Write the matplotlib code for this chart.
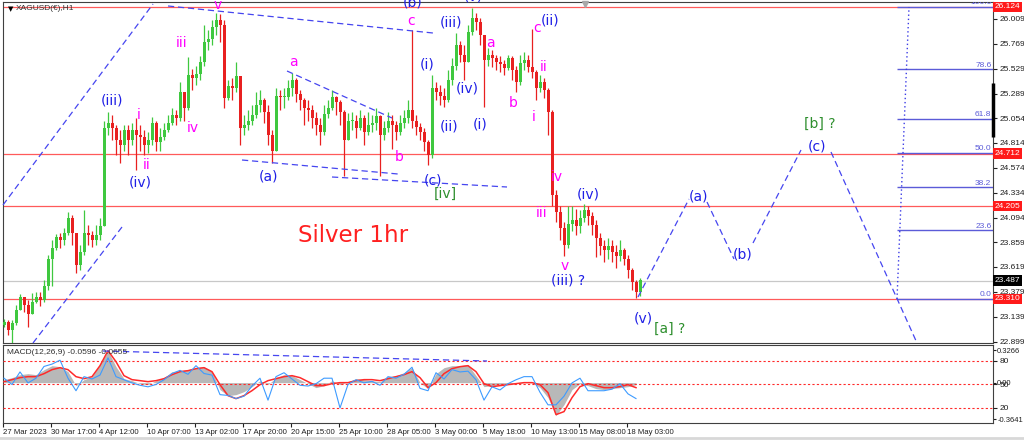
import numpy as np
import matplotlib
matplotlib.use('Agg')
import matplotlib.pyplot as plt
from matplotlib.transforms import blended_transform_factory

plt.rcParams['font.family'] = ['DejaVu Sans']
TICKFONT = 'Liberation Sans'

# ---------------- data ----------------
first_open = 23.06
close = [23.09, 23.01, 23.08, 23.20, 23.33, 23.25, 23.17, 23.28, 23.33, 23.30,
         23.44, 23.70, 23.80, 23.91, 23.88, 23.95, 24.09, 23.95, 23.64, 23.76,
         23.95, 23.93, 23.88, 23.93, 24.01, 24.96, 25.01, 24.96, 24.84, 24.79,
         24.94, 24.84, 24.94, 24.89, 24.87, 24.79, 24.84, 25.01, 24.82, 24.87,
         24.94, 25.01, 25.08, 25.05, 25.30, 25.15, 25.47, 25.44, 25.48, 25.59,
         25.79, 25.82, 25.93, 26.00, 25.95, 25.25, 25.36, 25.34, 25.46, 24.96,
         24.99, 25.03, 25.08, 25.18, 25.23, 25.11, 24.89, 24.74, 25.27, 25.26,
         25.26, 25.34, 25.42, 25.29, 25.23, 25.15, 25.13, 25.05, 24.99, 24.92,
         25.09, 25.15, 25.26, 25.21, 25.11, 24.84, 25.03, 25.03, 24.96, 25.05,
         24.92, 24.99, 25.01, 25.07, 24.89, 24.96, 25.03, 24.99, 24.92, 25.01,
         25.05, 25.13, 25.03, 24.97, 24.92, 24.82, 24.70, 25.34, 25.30, 25.27,
         25.23, 25.42, 25.56, 25.76, 25.66, 25.59, 25.88, 26.02, 25.98, 25.85,
         25.61, 25.66, 25.63, 25.59, 25.57, 25.54, 25.63, 25.52, 25.40, 25.58,
         25.61, 25.55, 25.50, 25.34, 25.40, 25.32, 25.11, 24.31, 24.15, 23.99,
         23.83, 24.03, 24.07, 24.01, 24.09, 24.17, 24.11, 24.02, 23.90, 23.82,
         23.78, 23.82, 23.76, 23.72, 23.78, 23.70, 23.59, 23.47, 23.38, 23.49]
high = [23.12, 23.11, 23.11, 23.25, 23.36, 23.32, 23.30, 23.37, 23.38, 23.38,
        23.49, 23.73, 23.88, 23.94, 23.95, 23.99, 24.15, 24.12, 23.93, 23.83,
        24.17, 24.02, 23.97, 24.02, 24.09, 25.03, 25.11, 25.08, 24.99, 24.94,
        24.99, 24.99, 25.01, 25.05, 24.99, 24.94, 24.92, 25.06, 25.03, 24.96,
        25.01, 25.08, 25.15, 25.13, 25.40, 25.30, 25.64, 25.53, 25.56, 25.65,
        25.95, 25.90, 26.00, 26.07, 26.06, 26.00, 25.42, 25.44, 25.59, 25.46,
        25.08, 25.13, 25.18, 25.30, 25.32, 25.25, 25.18, 24.94, 25.34, 25.32,
        25.34, 25.42, 25.49, 25.44, 25.32, 25.25, 25.23, 25.18, 25.11, 25.05,
        25.18, 25.23, 25.32, 25.27, 25.23, 25.13, 25.10, 25.11, 25.08, 25.13,
        25.08, 25.11, 25.08, 25.15, 25.08, 25.03, 25.11, 25.08, 25.03, 25.08,
        25.13, 25.23, 25.90, 25.08, 25.01, 24.96, 24.84, 25.47, 25.40, 25.37,
        25.34, 25.52, 25.63, 25.87, 25.80, 25.76, 25.95, 26.11, 26.07, 26.02,
        25.85, 25.73, 25.71, 25.66, 25.65, 25.61, 25.66, 25.65, 25.56, 25.66,
        25.69, 25.66, 25.91, 25.52, 25.47, 25.44, 25.34, 25.13, 24.36, 24.21,
        24.05, 24.21, 24.21, 24.18, 24.17, 24.23, 24.21, 24.15, 24.07, 23.95,
        23.88, 23.90, 23.88, 23.83, 23.88, 23.80, 23.73, 23.61, 23.49, 23.51]
low = [23.04, 22.96, 22.88, 23.06, 23.20, 23.18, 23.04, 23.18, 23.27, 23.24,
       23.28, 23.40, 23.44, 23.78, 23.80, 23.83, 23.93, 23.83, 23.56, 23.59,
       23.73, 23.83, 23.81, 23.83, 23.88, 24.02, 24.89, 24.84, 24.70, 24.62,
       24.74, 24.70, 24.79, 24.55, 24.74, 24.70, 24.72, 24.79, 24.74, 24.74,
       24.84, 24.92, 24.99, 24.99, 25.03, 25.03, 25.13, 25.32, 25.37, 25.42,
       25.56, 25.71, 25.76, 25.85, 25.79, 25.15, 25.23, 25.23, 25.30, 24.79,
       24.89, 24.94, 24.99, 25.05, 25.11, 25.01, 24.79, 24.62, 24.74, 25.13,
       25.15, 25.23, 25.27, 25.21, 25.13, 24.99, 25.03, 24.96, 24.89, 24.79,
       24.89, 25.05, 25.13, 25.08, 24.99, 24.50, 24.84, 24.94, 24.86, 24.94,
       24.79, 24.89, 24.92, 24.94, 24.50, 24.84, 24.92, 24.76, 24.84, 24.89,
       24.96, 25.01, 24.96, 24.89, 24.84, 24.74, 24.60, 24.67, 25.23, 25.18,
       25.16, 25.21, 25.37, 25.52, 25.59, 25.42, 25.59, 25.85, 25.90, 25.76,
       25.16, 25.56, 25.55, 25.52, 25.50, 25.47, 25.52, 25.42, 25.30, 25.37,
       25.52, 25.50, 25.44, 25.23, 25.30, 25.25, 24.89, 24.21, 24.05, 23.88,
       23.72, 23.80, 23.97, 23.93, 23.95, 24.05, 24.02, 23.93, 23.71, 23.73,
       23.67, 23.70, 23.67, 23.61, 23.68, 23.64, 23.51, 23.40, 23.32, 23.34]
last_price = 23.487

macd_hist = [0.03, 0.05, 0.08, 0.09, 0.08, 0.13, 0.17, 0.16, 0.11, -0.03,
             0.03, 0.06, 0.18, 0.32, 0.16, 0.04, 0.02, -0.01, -0.02, 0.02,
             0.05, 0.11, 0.12, 0.13, 0.15, 0.16, 0.11, -0.07, -0.13, -0.12,
             -0.09, -0.04, 0.02, -0.02, 0.05, 0.08, 0.07, 0.03, -0.01, -0.05,
             -0.03, 0.02, -0.02, 0.01, 0.04, 0.03, 0.02, 0.01, 0.06, 0.07,
             0.10, 0.15, 0.00, -0.06, 0.09, 0.15, 0.17, 0.17, 0.18, 0.07,
             -0.04, -0.03, -0.02, -0.01, -0.01, 0.00, 0.00, -0.05, -0.15, -0.33,
             -0.22, -0.07, -0.01, -0.03, -0.06, -0.07, -0.06, -0.05, -0.04, -0.02]
macd_signal = [0.01, 0.03, 0.05, 0.06, 0.06, 0.09, 0.13, 0.15, 0.13, 0.06,
               0.04, 0.06, 0.17, 0.32, 0.21, 0.07, 0.03, 0.02, 0.01, 0.02,
               0.04, 0.08, 0.11, 0.12, 0.14, 0.15, 0.11, -0.02, -0.13, -0.16,
               -0.13, -0.08, -0.02, 0.02, 0.04, 0.06, 0.07, 0.05, 0.01, -0.03,
               -0.03, -0.01, 0.00, 0.00, 0.02, 0.03, 0.03, 0.02, 0.04, 0.06,
               0.08, 0.11, 0.05, -0.05, 0.00, 0.09, 0.14, 0.16, 0.17, 0.11,
               -0.01, -0.04, -0.03, -0.02, -0.01, 0.00, 0.00, -0.02, -0.10, -0.32,
               -0.29, -0.15, -0.04, -0.01, -0.03, -0.05, -0.05, -0.04, -0.02, -0.05]
osc_blue = [58, 50, 66, 52, 58, 73, 76, 81, 58, 42,
            60, 57, 62, 84, 60, 56, 52, 49, 47, 50,
            56, 64, 68, 63, 74, 64, 62, 37, 36, 32,
            35, 48, 58, 30, 60, 65, 57, 49, 48, 51,
            58, 58, 20, 50, 56, 52, 54, 49, 60, 58,
            63, 72, 45, 42, 65, 57, 69, 66, 67, 56,
            30, 47, 43, 51, 56, 60, 60, 40, 24, 24,
            35, 52, 58, 42, 42, 42, 44, 51, 38, 32]

price_ticks = [26.009, 25.769, 25.529, 25.289, 25.054, 24.814, 24.574, 24.334,
               24.094, 23.859, 23.619, 23.379, 23.139, 22.899]
red_levels = [26.124, 24.712, 24.205, 23.310]
fib_low, fib_high = 23.310, 26.124
fib_ratios = [0.0, 23.6, 38.2, 50.0, 61.8, 78.6, 100.0]
osc_levels = [80, 50, 20]
macd_ticks = [0.3266, 0.0, -0.3641]
time_labels = ['27 Mar 2023', '30 Mar 17:00', '4 Apr 12:00', '10 Apr 07:00',
               '13 Apr 02:00', '17 Apr 20:00', '20 Apr 15:00', '25 Apr 10:00',
               '28 Apr 05:00', '3 May 00:00', '5 May 18:00', '10 May 13:00',
               '15 May 08:00', '18 May 03:00']

# ---------------- figure ----------------
W, H = 1024, 441
fig = plt.figure(figsize=(W / 100, H / 100), dpi=100)
fig.patch.set_facecolor('white')


def rect(x0, y0, x1, y1):
    return [x0 / W, 1 - y1 / H, (x1 - x0) / W, (y1 - y0) / H]


ax = fig.add_axes(rect(3, 2, 993, 343))
ax2 = fig.add_axes(rect(3, 345, 993, 423))
tw = ax2.twinx()
XLIM = (-0.25, 247.25)
for a in (ax, ax2, tw):
    a.set_xlim(*XLIM)
for a in (ax, ax2):
    for s in a.spines.values():
        s.set_color('#404040')
        s.set_linewidth(0.8)
for s in tw.spines.values():
    s.set_visible(False)
ax.set_ylim(22.886, 26.172)

# horizontal levels
for lv in red_levels:
    ax.axhline(lv, color='#ff5a5a', lw=0.9, zorder=1)
ax.axhline(last_price, color='#c8c8c8', lw=0.9, zorder=1)

# candles
c = np.array(close)
o = np.r_[first_open, c[:-1]]
hi = np.maximum(np.array(high), np.maximum(o, c))
lo = np.minimum(np.array(low), np.minimum(o, c))
x = np.arange(len(c))
up = c >= o
cols = np.where(up, '#3fc83f', '#e82020')
ax.vlines(x, lo, hi, colors=cols, lw=0.9, zorder=3)
body = np.where(np.abs(c - o) < 0.006, 0.006, c - o)
ax.bar(x, body, bottom=o, width=0.75, color=cols, linewidth=0, zorder=4)

# fibonacci
fx0, fx1 = 223.25, 247.25
fib_vals = [fib_low + r / 100.0 * (fib_high - fib_low) for r in fib_ratios]
ax.hlines(fib_vals, fx0, fx1, color='#5b5bd8', lw=1.0, zorder=2)
for r, v in zip(fib_ratios, fib_vals):
    ax.text(fx1 - 0.4, v + 0.005, f'{r:.1f}', ha='right', va='bottom',
            fontsize=6, family=TICKFONT, color='#5b5bd8', clip_on=True)
ax.plot([fx0, fx0 + 3], [fib_low, fib_high], ls=(0, (1, 2)), color='#3c3ce6', lw=1.0)

# price axis
ax.set_xticks([])
ax.yaxis.tick_right()
ax.set_yticks(price_ticks)
ax.set_yticklabels([f'{t:.3f}' for t in price_ticks], family=TICKFONT)
ax.tick_params(axis='y', labelsize=6, length=3, pad=1.5, colors='#202020')
trans = blended_transform_factory(ax.transAxes, ax.transData)
for lv in red_levels:
    ax.text(1.002, lv, f'{lv:.3f}', transform=trans, fontsize=6, family=TICKFONT,
            color='white', ha='left', va='center', zorder=10,
            bbox=dict(boxstyle='square,pad=0.2', fc='#ff1a1a', ec='none'))
ax.text(1.002, last_price, f'{last_price:.3f}', transform=trans, fontsize=6,
        family=TICKFONT, color='white', ha='left', va='center', zorder=10,
        bbox=dict(boxstyle='square,pad=0.2', fc='black', ec='none'))

# ---------------- MACD panel ----------------
xm = np.arange(0, 2 * len(macd_hist), 2)
ax2.set_ylim(-0.404, 0.377)
ax2.fill_between(xm, 0, macd_hist, color='#b8b8b8', lw=0, zorder=2)
ax2.plot(xm, macd_signal, color='#ff2a2a', lw=1.1, zorder=4)
ax2.yaxis.tick_right()
ax2.set_yticks(macd_ticks)
ax2.set_yticklabels(['0.3266', '0.00', '-0.3641'], family=TICKFONT)
ax2.tick_params(axis='y', labelsize=5.5, length=2, pad=1, colors='#202020',
                left=False, labelleft=False, right=True, labelright=True)
ax2.set_xticks(np.arange(len(time_labels)) * 12 - 0.25)
ax2.set_xticklabels(time_labels, ha='left', family=TICKFONT)
ax2.tick_params(axis='x', labelsize=5.6, length=3, pad=1, colors='#202020')

tw.set_ylim(0.8, 100.4)
for lv in osc_levels:
    tw.axhline(lv, color='#ff2a2a', lw=0.8, ls=(0, (2, 2)), zorder=1)
tw.plot(xm, osc_blue, color='#3d9bff', lw=0.8, zorder=3)
tw.set_yticks(osc_levels)
tw.set_yticklabels([str(v) for v in osc_levels], family=TICKFONT)
tw.tick_params(axis='y', labelsize=6, length=3, pad=1.5, colors='#202020')

# ---------------- overlay annotations (pixel coords) ----------------
ov = fig.add_axes([0, 0, 1, 1])
ov.set_xlim(0, W)
ov.set_ylim(H, 0)
ov.axis('off')
ov.patch.set_alpha(0)
ov.set_zorder(10)

dash_col = '#4646f0'
trend_lines = [((3, 205), (153, 4)), ((33, 343), (122, 227)), ((168, 6), (433, 33)),
               ((287, 71), (392, 118)), ((242, 160), (398, 174)), ((332, 177), (507, 187)),
               ((638, 297), (689, 199)), ((707, 202), (734, 259)),
               ((753, 243), (801, 150)), ((831, 152), (917, 343)),
               ((103, 351), (487, 361))]
for (xa, ya), (xb, yb) in trend_lines:
    ov.plot([xa, xb], [ya, yb], color=dash_col, lw=0.9, ls=(0, (5, 3)))

blue_labels = [('(iii)', 112, 100), ('(iv)', 140, 182), ('(a)', 268, 177), ('(b)', 413, 3),
               ('(i)', 427, 65), ('(ii)', 449, 127), ('(iii)', 451, 23), ('(iv)', 467, 88),
               ('(i)', 480, 124), ('(v)', 473, -4), ('(ii)', 550, 20), ('(c)', 433, 180),
               ('(iv)', 588, 195), ('(iii) ?', 568, 280), ('(v)', 643, 319),
               ('(a)', 698, 197), ('(b)', 743, 254), ('(c)', 817, 147)]
magenta_labels = [('v', 218, 5), ('iii', 182, 43), ('iv', 193, 128), ('i', 139, 115),
                  ('ii', 147, 165), ('a', 293, 62), ('b', 399, 157), ('c', 411, 21),
                  ('a', 490, 43), ('b', 513, 103), ('c', 537, 28), ('ii', 544, 67),
                  ('i', 534, 117), ('iv', 557, 177), ('iii', 542, 213), ('v', 565, 266)]
green_labels = [('[iv]', 445, 194), ('[a] ?', 670, 329), ('[b] ?', 820, 124)]

for s, xx, yy in blue_labels:
    ov.text(xx, yy, s, color='#1f1fe6', fontsize=10, ha='center', va='center')
for s, xx, yy in magenta_labels:
    ov.text(xx, yy, s, color='#ff00ff', fontsize=10, ha='center', va='center')
for s, xx, yy in green_labels:
    ov.text(xx, yy, s, color='#2e8f2e', fontsize=10, ha='center', va='center')

ov.text(298, 235, 'Silver 1hr', color='#ff2020', fontsize=16.5, ha='left', va='center')
ov.text(8, 9, '\u25bc', color='black', fontsize=5, ha='left', va='center')
ov.text(16, 9, 'XAGUSD(\u20ac),H1', color='#303030', fontsize=6, family=TICKFONT,
        ha='left', va='center')
ov.text(7, 352, 'MACD(12,26,9) -0.0596 -0.0655', color='#303030', fontsize=6,
        family=TICKFONT, ha='left', va='center')
ov.plot([993, 993], [83, 137], color='black', lw=2.5, solid_capstyle='butt')
ov.plot([585], [4], marker='v', color='#a8a8a8', ms=5, ls='none')
ov.plot([0, W], [438, 438], color='#d8d8d8', lw=2)

fig.savefig('out.png', dpi=100)
